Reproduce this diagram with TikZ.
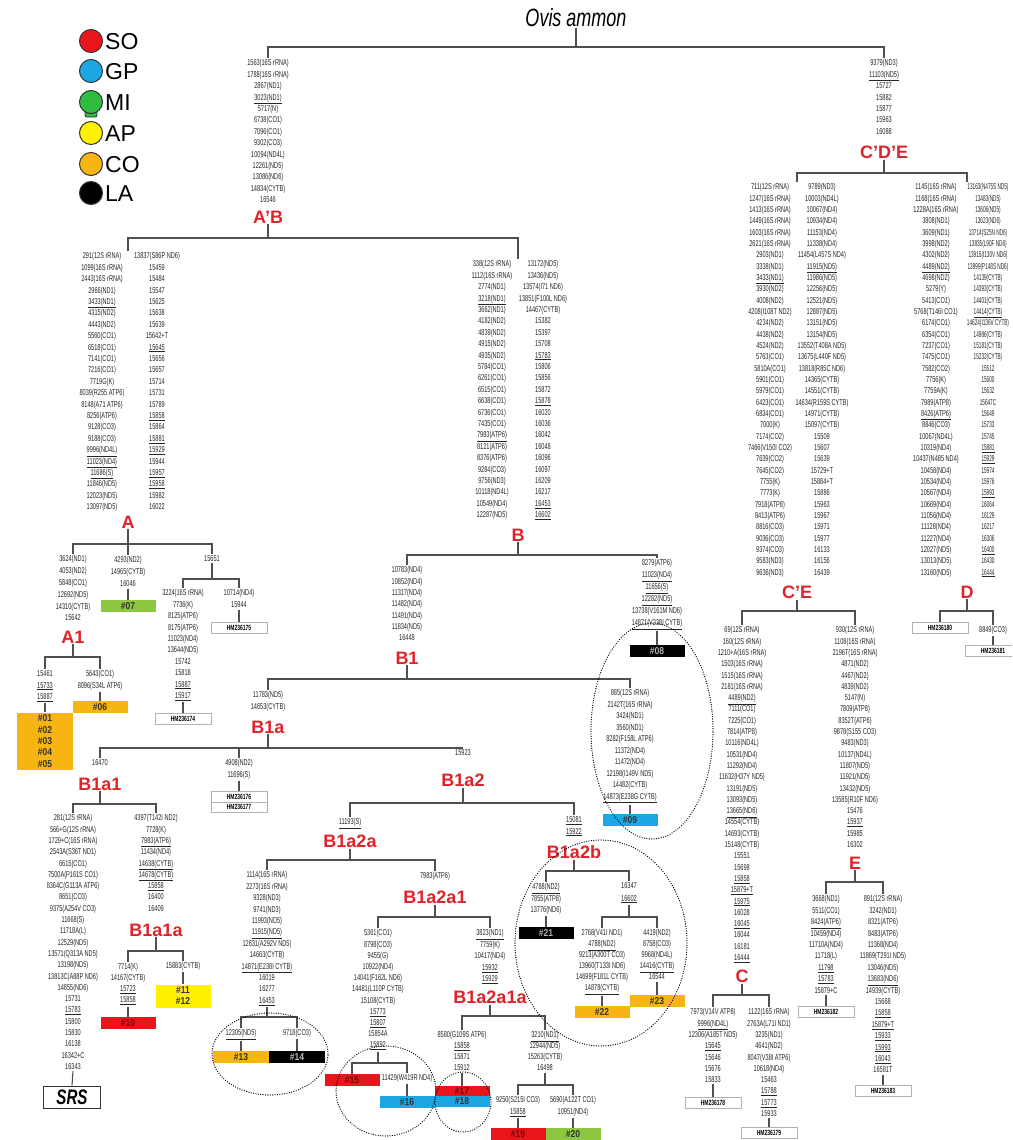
\documentclass[tikz,border=0pt]{standalone}
\usepackage{fontspec}
\setmainfont{Liberation Sans}
\newfontfamily\mutf[FakeStretch=0.66]{Liberation Sans}
\newfontfamily\mutn[FakeStretch=0.55]{Liberation Sans}
\newfontfamily\boxff[FakeStretch=0.85]{Liberation Sans}
\newfontfamily\titf[FakeStretch=0.72]{Liberation Sans}
\newcommand\boxf{\boxff\bfseries\fontsize{10}{11}\selectfont}
\newcommand\hmf{\mutf\bfseries\fontsize{7.5}{10.5}\selectfont}
\newcommand\labf{\bfseries\fontsize{18}{18}\selectfont}
\newcommand\uu[1]{\underline{#1}}
\definecolor{cso}{HTML}{E8151B}
\definecolor{cgp}{HTML}{1CA7E2}
\definecolor{cmi}{HTML}{2EBD3E}
\definecolor{cmib}{HTML}{8DC63F}
\definecolor{cap}{HTML}{FFF100}
\definecolor{cco}{HTML}{F6B512}
\definecolor{labred}{HTML}{E0222A}
\definecolor{tln}{HTML}{505050}
\definecolor{dred}{HTML}{7A0A0A}
\newcommand\brk[3]{\draw[tr] (#1.south) -- (#1.south |- 0,#2) -| (#3);}
\tikzset{
 tr/.style={draw=tln, line width=1.1pt},
 mut/.style={font=\mutf\fontsize{8.5}{#1}\selectfont, align=center, inner sep=1.5pt, anchor=north, text=black!85},
 mut/.default=11.4,
 clab/.style={font=\labf, text=labred, inner sep=1pt},
 hb/.style={fill=#1, minimum width=55pt, minimum height=11.5pt, inner sep=0pt, font=\boxf, text=black!80},
 hm/.style={draw=gray!60, line width=0.7pt, fill=white, minimum width=56pt, minimum height=11pt, inner sep=0pt, font=\hmf},
 dots/.style={line width=1.3pt, dash pattern=on 0pt off 2.4pt, line cap=round},
}
\begin{document}
\begin{tikzpicture}[x=1pt,y=-1pt]
\fill[white] (0,0) rectangle (1012,1140);
\clip (0,0) rectangle (1012,1140);
% legend
\draw[fill=cmi, draw=black!80, line width=0.8pt, rounded corners=2pt] (85,108) rectangle (97,117);
\foreach \c/\t/\yy [count=\i] in {cso/SO/41,cgp/GP/71,cmi/MI/102,cap/AP/133,cco/CO/164,black/LA/193}{
 \node[circle, fill=\c, draw=black!80, line width=1pt, minimum size=23pt, inner sep=0pt] (leg\i) at (91,\yy) {};
 \node[anchor=west, font=\fontsize{23}{23}\selectfont, inner sep=0pt] (legt\i) at (105,\yy+1) {\t};
}
% title
\node[font=\titf\itshape\fontsize{25}{25}\selectfont, inner sep=1pt] (ovis) at (576,18) {Ovis ammon};
% A'B
\node[mut] (ABl) at (268,58) {1563(16S rRNA)\\1788(16S rRNA)\\2867(ND1)\\\uu{3023(ND1)}\\5717(N)\\6738(CO1)\\7096(CO1)\\9302(CO3)\\10094(ND4L)\\12261(ND5)\\13086(ND6)\\14834(CYTB)\\16546};
\node[clab] (ABlab) at (268,217) {A'B};
% C'D'E
\node[mut] (CDEl) at (884,58) {9379(ND3)\\\uu{11103(ND5)}\\15727\\15882\\15877\\15963\\16088};
\node[clab] (CDElab) at (884,152) {C'D'E};
\brk{ovis}{47}{ABl.north}
\brk{ovis}{47}{CDEl.north}
% A and B lists
\coordinate (Atop) at (128,251);
\node[mut] (Al1) at (102,251) {291(12S rRNA)\\1099(16S rRNA)\\2443(16S rRNA)\\2966(ND1)\\\uu{3433(ND1)}\\4315(ND2)\\4443(ND2)\\5560(CO1)\\6518(CO1)\\7141(CO1)\\7216(CO1)\\7719G(K)\\8039(R255 ATP6)\\8148(A71 ATP6)\\8256(ATP6)\\9128(CO3)\\9188(CO3)\\\uu{9996(ND4L)}\\\uu{11023(ND4)}\\\uu{11686(S)}\\11846(ND5)\\12023(ND5)\\13097(ND5)};
\node[mut] (Al2) at (157,251) {13837(S86P ND6)\\15459\\15484\\15547\\15625\\15638\\15639\\15642+T\\\uu{15645}\\15656\\15657\\15714\\15731\\15789\\\uu{15858}\\15864\\\uu{15881}\\\uu{15929}\\15944\\\uu{15957}\\\uu{15958}\\15982\\16022};
\node[clab] (Alab) at (128,522) {A};
\coordinate (Btop) at (518,259);
\node[mut] (Bl1) at (492,259) {338(12S rRNA)\\1112(16S rRNA)\\2774(ND1)\\\uu{3218(ND1)}\\3662(ND1)\\4182(ND2)\\4839(ND2)\\4915(ND2)\\4935(ND2)\\5784(CO1)\\6261(CO1)\\6515(CO1)\\6638(CO1)\\6736(CO1)\\7435(CO1)\\\uu{7983(ATP6)}\\8121(ATP6)\\8376(ATP6)\\9284(CO3)\\9756(ND3)\\10118(ND4L)\\10549(ND4)\\12287(ND5)};
\node[mut] (Bl2) at (543,259) {13172(ND5)\\13436(ND5)\\13574(I71 ND6)\\13851(F100L ND6)\\14467(CYTB)\\15382\\15397\\15708\\\uu{15783}\\15806\\15856\\15872\\\uu{15878}\\16020\\16036\\16042\\16048\\16096\\16097\\16209\\16217\\\uu{16453}\\\uu{16602}};
\node[clab] (Blab) at (518,535) {B};
\brk{ABlab}{238}{Atop}
\brk{ABlab}{238}{Btop}
% C'E and D lists
\coordinate (CEtop) at (797,182);
\node[mut=11.33] (CEl1) at (770,182) {711(12S rRNA)\\1247(16S rRNA)\\1413(16S rRNA)\\1449(16S rRNA)\\1603(16S rRNA)\\2621(16S rRNA)\\2903(ND1)\\3338(ND1)\\\uu{3433(ND1)}\\3930(ND2)\\4008(ND2)\\4208(I108T ND2)\\4234(ND2)\\4438(ND2)\\4524(ND2)\\5763(CO1)\\5810A(CO1)\\5901(CO1)\\5979(CO1)\\6423(CO1)\\6834(CO1)\\7000(K)\\7174(CO2)\\7466(V150I CO2)\\7639(CO2)\\7645(CO2)\\7755(K)\\7773(K)\\7918(ATP8)\\8413(ATP6)\\8816(CO3)\\9036(CO3)\\9374(CO3)\\9583(ND3)\\9636(ND3)};
\node[mut=11.33] (CEl2) at (822,182) {9789(ND3)\\10003(ND4L)\\10067(ND4)\\10934(ND4)\\11153(ND4)\\11338(ND4)\\11454(L457S ND4)\\\uu{11915(ND5)}\\11986(ND5)\\12256(ND5)\\12521(ND5)\\12887(ND5)\\13151(ND5)\\13154(ND5)\\13552(T408A ND5)\\13675(L440F ND5)\\13818(R85C ND6)\\14365(CYTB)\\14551(CYTB)\\14634(R159S CYTB)\\14971(CYTB)\\15097(CYTB)\\15509\\15607\\15639\\15729+T\\15884+T\\15886\\15963\\15967\\15971\\15977\\16133\\16156\\16439};
\node[clab] (CElab) at (797,592) {C'E};
\coordinate (Dtop) at (967,182);
\node[mut=11.33] (Dl1) at (936,182) {1145(16S rRNA)\\1168(16S rRNA)\\1228A(16S rRNA)\\3808(ND1)\\3609(ND1)\\3998(ND2)\\4302(ND2)\\\uu{4489(ND2)}\\4698(ND2)\\5279(Y)\\5413(CO1)\\5768(T146I CO1)\\6174(CO1)\\6354(CO1)\\7237(CO1)\\7475(CO1)\\7582(CO2)\\7756(K)\\7759A(K)\\7989(ATP8)\\\uu{8426(ATP6)}\\8846(CO3)\\10067(ND4L)\\10319(ND4)\\10437(N485 ND4)\\10458(ND4)\\10534(ND4)\\10567(ND4)\\10669(ND4)\\11056(ND4)\\11128(ND4)\\11227(ND4)\\12027(ND5)\\13013(ND5)\\13160(ND5)};
\node[mut=11.33, font=\mutn\fontsize{8.5}{11.33}\selectfont] (Dl2) at (988,182) {13163(N475S ND5)\\13483(ND5)\\13606(ND5)\\13623(ND6)\\13714(S25N ND6)\\13835(L90F ND6)\\13915(I130V ND6)\\13999(P148S ND6)\\14139(CYTB)\\14393(CYTB)\\14401(CYTB)\\\uu{14414(CYTB)}\\14624(I136V CYTB)\\14986(CYTB)\\15181(CYTB)\\15232(CYTB)\\15512\\15600\\15632\\15647C\\15649\\15733\\15745\\\uu{15881}\\\uu{15929}\\15974\\15976\\\uu{15993}\\16064\\16129\\16217\\16306\\\uu{16400}\\16430\\\uu{16444}};
\node[clab] (Dlab) at (967,592) {D};
\brk{CDElab}{173}{CEtop}
\brk{CDElab}{173}{Dtop}
% D subtree
\node[hm] (hm80) at (940,628) {HM236180};
\node[mut] (Dr1) at (993,625) {8849(CO3)};
\node[hm] (hm81) at (993,651) {HM236181};
\brk{Dlab}{611}{hm80.north}
\brk{Dlab}{611}{Dr1.north}
\draw[tr] (Dr1.south) -- (hm81.north);
% C'E subtree
\node[mut=11.3] (Cl) at (742,625) {69(12S rRNA)\\160(12S rRNA)\\1210+A(16S rRNA)\\1503(16S rRNA)\\1515(16S rRNA)\\2181(16S rRNA)\\\uu{4489(ND2)}\\7111(CO1)\\7225(CO1)\\7814(ATP8)\\10116(ND4L)\\10531(ND4)\\11292(ND4)\\11632(H37Y ND5)\\13191(ND5)\\13093(ND5)\\\uu{13665(ND6)}\\14554(CYTB)\\14693(CYTB)\\15148(CYTB)\\15551\\15698\\\uu{15858}\\\uu{15879+T}\\\uu{15975}\\16028\\\uu{16045}\\16044\\16181\\\uu{16444}};
\node[clab] (Clab) at (742,976) {C};
\node[mut=11.3] (El) at (855,625) {930(12S rRNA)\\1108(16S rRNA)\\2196T(16S rRNA)\\4871(ND2)\\4467(ND2)\\4839(ND2)\\5147(N)\\7809(ATP8)\\8352T(ATP6)\\9878(S155 CO3)\\9483(ND3)\\10137(ND4L)\\11807(ND5)\\11921(ND5)\\13432(ND5)\\13585(R10F ND6)\\15476\\\uu{15937}\\15985\\16302};
\node[clab] (Elab) at (855,863) {E};
\brk{CElab}{611}{Cl.north}
\brk{CElab}{611}{El.north}
\node[mut=11.3] (Cl1) at (713,1007) {7973(V14V ATP8)\\\uu{9996(ND4L)}\\12306(A185T ND5)\\\uu{15645}\\15646\\15676\\15833};
\node[mut=11.3] (Cl2) at (769,1007) {1122(16S rRNA)\\2763A(L71I ND1)\\3235(ND1)\\4641(ND2)\\8047(V38I ATP6)\\10618(ND4)\\15463\\\uu{15788}\\\uu{15773}\\15933};
\node[hm] (hm78) at (713,1103) {HM236178};
\node[hm] (hm79) at (769,1133) {HM236179};
\brk{Clab}{995}{Cl1.north}
\brk{Clab}{995}{Cl2.north}
\draw[tr] (Cl1.south) -- (hm78.north);
\draw[tr] (Cl2.south) -- (hm79.north);
\node[mut] (El1) at (826,894) {3668(ND1)\\5511(CO1)\\\uu{8424(ATP6)}\\10459(ND4)\\11710A(ND4)\\11718(L)\\\uu{11798}\\\uu{15783}\\15879+C};
\node[mut] (El2) at (883,894) {891(12S rRNA)\\3242(ND1)\\8321(ATP6)\\8483(ATP6)\\11368(ND4)\\11869(T291I ND5)\\13046(ND5)\\\uu{13683(ND6)}\\14939(CYTB)\\15668\\\uu{15858}\\\uu{15879+T}\\\uu{15933}\\\uu{15993}\\\uu{16043}\\16581T};
\node[hm] (hm82) at (826,1012) {HM236182};
\node[hm] (hm83) at (883,1091) {HM236183};
\brk{Elab}{882}{El1.north}
\brk{Elab}{882}{El2.north}
\draw[tr] (El1.south) -- (hm82.north);
\draw[tr] (El2.south) -- (hm83.north);
% B subtree
\node[mut=11.3] (B1l) at (407,565) {10783(ND4)\\10852(ND4)\\11317(ND4)\\11482(ND4)\\11491(ND4)\\11834(ND5)\\16448};
\node[clab] (B1lab) at (407,658) {B1};
\node[mut=12] (Brl) at (657,558) {8279(ATP6)\\\uu{11023(ND4)}\\\uu{11656(S)}\\\uu{12282(ND5)}\\13738(V161M ND6)\\\uu{14871(V238I CYTB)}};
\node[hb=black, text=gray!60] (b08) at (657,651) {\#08};
\brk{Blab}{555}{B1l.north}
\brk{Blab}{555}{Brl.north}
\draw[tr] (Brl.south) -- (b08.north);
\node[mut=11.5] (B1rl) at (630,688) {885(12S rRNA)\\2142T(16S rRNA)\\3424(ND1)\\3560(ND1)\\8282(F158L ATP6)\\11372(ND4)\\11472(ND4)\\12198(I149V ND5)\\14482(CYTB)\\\uu{14873(E238G CYTB)}};
\node[hb=cgp] (b09) at (630,820) {\#09};
\draw[tr] (B1rl.south) -- (b09.north);
\node[mut=12] (B1al) at (268,690) {11783(ND5)\\14653(CYTB)};
\node[clab] (B1alab) at (268,727) {B1a};
\brk{B1lab}{679}{B1al.north}
\brk{B1lab}{679}{B1rl.north}
\draw[dots] (652,731) ellipse [x radius=61pt, y radius=108pt];
% B1a
\node[mut] (B1a1l) at (100,758) {16470};
\node[clab] (B1a1lab) at (100,784) {B1a1};
\node[mut=12] (B1aml) at (239,758) {4908(ND2)\\11696(S)};
\node[hm, minimum height=21pt, align=center] (hm7677) at (239,802) {HM236176\\HM236177};
\draw[gray!60, line width=0.7pt] (hm7677.west) -- (hm7677.east);
\node[mut] (B1a2l) at (463,748) {15923};
\node[clab] (B1a2lab) at (463,780) {B1a2};
\brk{B1alab}{748}{B1a1l.north}
\brk{B1alab}{748}{B1aml.north}
\brk{B1alab}{748}{B1a2l.north}
\draw[tr] (B1aml.south) -- (hm7677.north);
% B1a1
\node[mut=11.3] (B1a1L) at (73,813) {281(12S rRNA)\\566+G(12S rRNA)\\1729+C(16S rRNA)\\2543A(S36T ND1)\\6615(CO1)\\7500A(P161S CO1)\\8364C(G113A ATP6)\\8651(CO3)\\9375(A254V CO3)\\11668(S)\\11718A(L)\\12529(ND5)\\13571(Q313A ND5)\\13198(ND5)\\13813C(A88P ND6)\\14855(ND6)\\15731\\\uu{15783}\\15800\\15830\\16138\\16342+C\\16343};
\node[mut=11.3] (B1a1R) at (156,813) {4397(T142I ND2)\\7728(K)\\\uu{7983(ATP6)}\\11434(ND4)\\\uu{14638(CYTB)}\\\uu{14678(CYTB)}\\\uu{15858}\\16400\\16409};
\brk{B1a1lab}{804}{B1a1L.north}
\brk{B1a1lab}{804}{B1a1R.north}
\node[draw=black!80, line width=0.9pt, minimum width=57pt, minimum height=22pt, inner sep=0pt, font=\titf\bfseries\itshape\fontsize{21}{21}\selectfont] (srs) at (72,1097) {SRS};
\draw[tr] (B1a1L.south) -- (srs.north);
\node[clab] (B1a1alab) at (156,930) {B1a1a};
\node[mut=11] (B1a1aL) at (128,962) {7714(K)\\14167(CYTB)\\\uu{15723}\\\uu{15858}};
\node[mut] (B1a1aR) at (183,961) {15883(CYTB)};
\brk{B1a1alab}{951}{B1a1aL.north}
\brk{B1a1alab}{951}{B1a1aR.north}
\node[hb=cso, text=dred] (b10) at (128,1023) {\#10};
\node[hb=cap, minimum height=23pt, align=center] (b1112) at (183,996) {\#11\\\#12};
\draw[tr] (B1a1aL.south) -- (b10.north);
\draw[tr] (B1a1aR.south) -- (b1112.north);
% B1a2
\node[mut] (B1a2al) at (350,817) {\uu{11193(S)}};
\node[clab] (B1a2alab) at (350,841) {B1a2a};
\node[mut=11.5] (B1a2bl) at (574,815) {\uu{15081}\\\uu{15922}};
\node[clab] (B1a2blab) at (574,852) {B1a2b};
\brk{B1a2lab}{803}{B1a2al.north}
\brk{B1a2lab}{803}{B1a2bl.north}
% B1a2a
\node[mut] (B1a2aL) at (267,870) {1114(16S rRNA)\\2273(16S rRNA)\\9328(ND3)\\9741(ND3)\\11993(ND5)\\\uu{11915(ND5)}\\12631(A292V ND5)\\14663(CYTB)\\\uu{14871(E238I CYTB)}\\16019\\16277\\\uu{16453}};
\node[mut] (B1a2a1l) at (435,871) {7983(ATP6)};
\node[clab] (B1a2a1lab) at (435,897) {B1a2a1};
\brk{B1a2alab}{860}{B1a2aL.north}
\brk{B1a2alab}{860}{B1a2a1l.north}
\node[mut] (m13) at (241,1028) {\uu{12305(ND5)}};
\node[mut] (m14) at (297,1028) {9718(CO3)};
\brk{B1a2aL}{1017}{m13.north}
\brk{B1a2aL}{1017}{m14.north}
\node[hb=cco, minimum width=56pt] (b13) at (241,1057) {\#13};
\node[hb=black, minimum width=56pt, text=gray!50] (b14) at (297,1057) {\#14};
\draw[tr] (m13.south) -- (b13.north);
\draw[tr] (m14.south) -- (b14.north);
\draw[dots] (270,1054) ellipse [x radius=58pt, y radius=41pt];
% B1a2a1
\node[mut=11.2] (B1a2a1L) at (378,928) {5361(CO1)\\8798(CO3)\\9455(G)\\10922(ND4)\\14041(F162L ND6)\\14481(L110P CYTB)\\15108(CYTB)\\\uu{15773}\\\uu{15807}\\15854A\\\uu{15892}};
\node[mut=11.5] (B1a2a1R) at (490,928) {\uu{3823(ND1)}\\7759(K)\\10417(ND4)\\\uu{15932}\\\uu{15929}};
\node[clab] (B1a2a1alab) at (490,997) {B1a2a1a};
\brk{B1a2a1lab}{917}{B1a2a1L.north}
\brk{B1a2a1lab}{917}{B1a2a1R.north}
\node[hb=cso, text=dred] (b15) at (352,1080) {\#15};
\node[mut] (m16) at (407,1073) {11429(W419R ND4)};
\node[hb=cgp] (b16) at (407,1102) {\#16};
\brk{B1a2a1L}{1063}{b15.north}
\brk{B1a2a1L}{1063}{m16.north}
\draw[tr] (m16.south) -- (b16.north);
\draw[dots] (386,1091) ellipse [x radius=50pt, y radius=45pt];
% B1a2a1a
\node[mut=11] (m1718) at (462,1030) {8580(G109S ATP6)\\\uu{15858}\\15871\\15912};
\node[mut=11] (m1920) at (545,1030) {\uu{3210(ND1)}\\12944(ND5)\\15263(CYTB)\\16498};
\brk{B1a2a1alab}{1016}{m1718.north}
\brk{B1a2a1alab}{1016}{m1920.north}
\node[hb=cso, minimum height=10pt, text=dred] (b17) at (462,1091) {\#17};
\node[hb=cgp, minimum height=11pt] (b18) at (462,1101.5) {\#18};
\draw[tr] (m1718.south) -- (b17.north);
\draw[dots] (463,1102) ellipse [x radius=28pt, y radius=30pt];
\node[mut=11.5] (m19) at (518,1095) {9250(S215I CO3)\\\uu{15858}};
\node[mut=11.5] (m20) at (573,1095) {5690(A122T CO1)\\10951(ND4)};
\brk{m1920}{1085}{m19.north}
\brk{m1920}{1085}{m20.north}
\node[hb=cso, text=dred] (b19) at (518,1134) {\#19};
\node[hb=cmib] (b20) at (573,1134) {\#20};
\draw[tr] (m19.south) -- (b19.north);
\draw[tr] (m20.south) -- (b20.north);
% B1a2b
\node[mut=11.5] (m21) at (546,882) {\uu{4788(ND2)}\\7855(ATP8)\\13776(ND6)};
\node[mut=12.5] (B1a2bR) at (629,881) {16347\\\uu{16602}};
\brk{B1a2blab}{871}{m21.north}
\brk{B1a2blab}{871}{B1a2bR.north}
\node[hb=black, text=gray!60] (b21) at (546,933) {\#21};
\draw[tr] (m21.south) -- (b21.north);
\node[mut=11] (m22) at (602,928) {2768(V41I ND1)\\\uu{4788(ND2)}\\9213(A300T CO3)\\13960(T133I ND6)\\14699(F181L CYTB)\\\uu{14878(CYTB)}};
\node[mut=11] (m23) at (657,928) {4419(ND2)\\8758(CO3)\\9968(ND4L)\\\uu{14416(CYTB)}\\16544};
\brk{B1a2bR}{917}{m22.north}
\brk{B1a2bR}{917}{m23.north}
\node[hb=cco] (b22) at (602,1012) {\#22};
\node[hb=cco] (b23) at (657,1001) {\#23};
\draw[tr] (m22.south) -- (b22.north);
\draw[tr] (m23.south) -- (b23.north);
\draw[dots] (601,943) ellipse [x radius=86pt, y radius=103pt];
% A subtree
\node[mut=11.8] (A1l) at (73,554) {3624(ND1)\\4053(ND2)\\5848(CO1)\\12692(ND5)\\14310(CYTB)\\15642};
\node[clab] (A1lab) at (73,637) {A1};
\node[mut=12] (Aml) at (128,555) {4293(ND2)\\14965(CYTB)\\16046};
\node[mut] (Arl) at (212,554) {15651};
\brk{Alab}{544}{A1l.north}
\brk{Alab}{544}{Aml.north}
\brk{Alab}{544}{Arl.north}
\node[hb=cmib] (b07) at (128,606) {\#07};
\draw[tr] (Aml.south) -- (b07.north);
\node[mut=11.5] (A1L) at (45,669) {15461\\\uu{15733}\\\uu{15887}};
\node[mut=11.5] (A1R) at (100,669) {5643(CO1)\\8096(S34L ATP6)};
\brk{A1lab}{657}{A1L.north}
\brk{A1lab}{657}{A1R.north}
\node[hb=cco, minimum width=56pt, minimum height=57pt, align=center, font=\boxff\bfseries\fontsize{10}{11.3}\selectfont] (b0105) at (45,741) {\#01\\\#02\\\#03\\\#04\\\#05};
\node[hb=cco] (b06) at (100,707) {\#06};
\draw[tr] (A1L.south) -- (b0105.north);
\draw[tr] (A1R.south) -- (b06.north);
\node[mut] (ArL) at (183,588) {3224(16S rRNA)\\7736(K)\\8125(ATP6)\\8175(ATP6)\\11023(ND4)\\13644(ND5)\\15742\\15818\\\uu{15887}\\\uu{15917}};
\node[mut=12] (ArR) at (239,588) {10714(ND4)\\15944};
\brk{Arl}{579}{ArL.north}
\brk{Arl}{579}{ArR.north}
\node[hm] (hm74) at (183,719) {HM236174};
\node[hm] (hm75) at (239,628) {HM236175};
\draw[tr] (ArL.south) -- (hm74.north);
\draw[tr] (ArR.south) -- (hm75.north);
\end{tikzpicture}
\end{document}
